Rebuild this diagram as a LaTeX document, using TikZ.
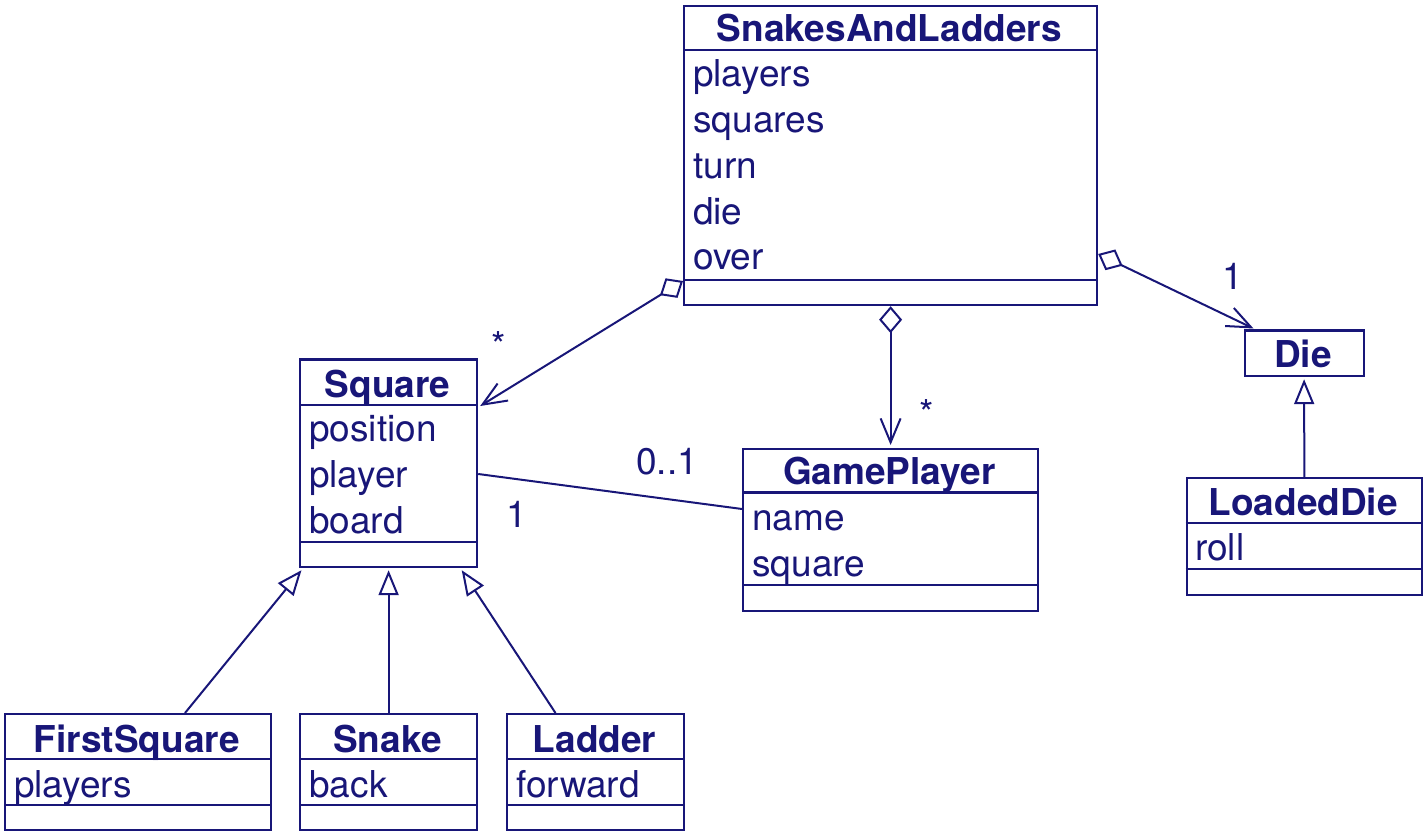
\documentclass[tikz,border=0pt]{standalone}
\usepackage{fontspec}
\setmainfont{TeX Gyre Heros}
\usetikzlibrary{arrows.meta,calc}
\definecolor{navy}{RGB}{24,22,120}
\newcommand\umlTitleFont{\fontsize{37}{44}\selectfont\bfseries}
\newcommand\umlAttrFont{\fontsize{37}{44}\selectfont}
\tikzset{
  cls/.style={draw=navy, line width=2.2pt, inner sep=0pt, anchor=north west},
  sepline/.style={draw=navy, line width=2.2pt},
  ttl/.style={font=\umlTitleFont, text=navy, anchor=base, inner sep=0pt},
  attr/.style={font=\umlAttrFont, text=navy, anchor=base west, inner sep=0pt},
  mult/.style={font=\umlAttrFont, text=navy, anchor=base, inner sep=0pt},
  assoc/.style={draw=navy, line width=2pt},
  agg/.style={assoc, {Diamond[open,length=27pt,width=23pt]}-{Straight Barb[length=24pt,width=20pt]}},
  gen/.style={assoc, -{Triangle[open,length=25pt,width=20pt]}},
}
\begin{document}
\begin{tikzpicture}[x=1pt,y=-1pt]
\useasboundingbox (0,0) rectangle (1425,834);

% SnakesAndLadders
\node[cls, minimum width=413pt, minimum height=299pt] (sal) at (683,5) {};
\draw[sepline] (683,50) -- (1096,50);
\draw[sepline] (683,280) -- (1096,280);
\node[ttl] (salT) at (889.5,42) {SnakesAndLadders};
\node[attr] (salA1) at (693,87) {players};
\node[attr] (salA2) at (693,132.75) {squares};
\node[attr] (salA3) at (693,178.5) {turn};
\node[attr] (salA4) at (693,224.25) {die};
\node[attr] (salA5) at (693,270) {over};

% Square
\node[cls, minimum width=177pt, minimum height=207.5pt] (sq) at (299,358.5) {};
\draw[sepline] (299,405) -- (476,405);
\draw[sepline] (299,542) -- (476,542);
\node[ttl] (sqT) at (387.5,397) {Square};
\node[attr] (sqA1) at (309,441) {position};
\node[attr] (sqA2) at (309,487) {player};
\node[attr] (sqA3) at (309,533) {board};

% GamePlayer
\node[cls, minimum width=295pt, minimum height=161.5pt] (gp) at (742,448) {};
\draw[sepline] (742,492.5) -- (1037,492.5);
\draw[sepline] (742,585) -- (1037,585);
\node[ttl] (gpT) at (889.5,484) {GamePlayer};
\node[attr] (gpA1) at (752,530.5) {name};
\node[attr] (gpA2) at (752,576.5) {square};

% Die
\node[cls, minimum width=119pt, minimum height=45.5pt] (die) at (1243.5,329.5) {};
\node[ttl] (dieT) at (1303,367) {Die};

% LoadedDie
\node[cls, minimum width=235.5pt, minimum height=116.5pt] (ld) at (1185.5,477) {};
\draw[sepline] (1185.5,523) -- (1421,523);
\draw[sepline] (1185.5,569) -- (1421,569);
\node[ttl] (ldT) at (1303.25,515) {LoadedDie};
\node[attr] (ldA1) at (1195,560.5) {roll};

% FirstSquare
\node[cls, minimum width=265.5pt, minimum height=116pt] (fs) at (4,713) {};
\draw[sepline] (4,759) -- (269.5,759);
\draw[sepline] (4,805) -- (269.5,805);
\node[ttl] (fsT) at (136.75,752) {FirstSquare};
\node[attr] (fsA1) at (14,797) {players};

% Snake
\node[cls, minimum width=177pt, minimum height=116pt] (sn) at (299,713) {};
\draw[sepline] (299,759) -- (476,759);
\draw[sepline] (299,805) -- (476,805);
\node[ttl] (snT) at (387.5,752) {Snake};
\node[attr] (snA1) at (309,797) {back};

% Ladder
\node[cls, minimum width=177pt, minimum height=116pt] (lad) at (506,713) {};
\draw[sepline] (506,759) -- (683,759);
\draw[sepline] (506,805) -- (683,805);
\node[ttl] (ladT) at (594.5,752) {Ladder};
\node[attr] (ladA1) at (516,797) {forward};

% Aggregations
\draw[agg] ($(sal.north west)+(0,276)$) -- ($(sq.north east)+(2,47.5)$);
\draw[agg] (sal.south) -- ($(gp.north)+(0,-3)$);
\draw[agg] ($(sal.north east)+(0,249)$) -- ($(die.north west)+(10,-1)$);

% Association
\draw[assoc] ($(sq.north east)+(0,115.5)$) -- ($(gp.north west)+(0,61)$);

% Generalizations
\draw[gen] ($(fs.north west)+(181,0)$) -- ($(sq.south west)+(2.5,2)$);
\draw[gen] (sn.north) -- ($(sq.south)+(0,2)$);
\draw[gen] ($(lad.north west)+(49.5,0)$) -- ($(sq.south east)+(-16.5,2)$);
\draw[gen] (ld.north) -- ($(die.south)+(0,2)$);

% Multiplicities
\node[mult] (m1) at (499,359) {*};
\node[mult] (m2) at (927,426) {*};
\node[mult] (m3) at (1233,290) {1};
\node[mult] (m4) at (667,474) {0..1};
\node[mult] (m5) at (516.5,527) {1};
\end{tikzpicture}
\end{document}
